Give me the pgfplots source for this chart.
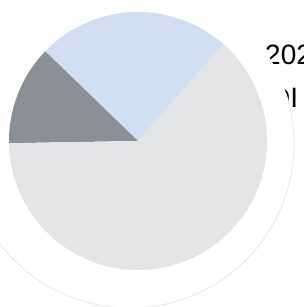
\documentclass[border=0pt]{standalone}
\usepackage{pgfplots}
\pgfplotsset{compat=1.18}
\usepackage{fontspec}
\setmainfont{Liberation Sans}
\definecolor{pieblue}{RGB}{210,222,242}
\definecolor{piedark}{RGB}{139,143,150}
\definecolor{pielight}{RGB}{227,229,231}
\definecolor{ringgray}{RGB}{232,232,232}
% slice shares (percent)
\def\vBlue{24.3}
\def\vDark{12.5}
\def\vLight{63.2}
\pgfmathsetmacro\aS{48.5}
\pgfmathsetmacro\aA{\aS+3.6*\vBlue}
\pgfmathsetmacro\aB{\aA+3.6*\vDark}
\pgfmathsetmacro\aC{\aB+3.6*\vLight}
\begin{document}
\begin{tikzpicture}[x=1pt,y=1pt]
\useasboundingbox (0,0) rectangle (303,307);
\begin{axis}[at={(0,0)},anchor=south west,x=1pt,y=1pt,
  xmin=0,xmax=303,ymin=0,ymax=307,hide axis,clip=false]
\node[anchor=base west,font=\fontsize{28}{32}\selectfont,inner sep=0pt] at (axis cs:265,242) {2023};
\node[anchor=base west,font=\fontsize{28}{32}\selectfont,inner sep=0pt] at (axis cs:270,199) {DI};
\fill[white] (axis cs:130,163) circle[radius=164pt];
\draw[ringgray,line width=0.8pt] (axis cs:130,163) ++(200:164pt) arc[start angle=200,end angle=378,radius=164pt];
\fill[pieblue] (axis cs:138,166) -- ++(\aS:129pt) arc[start angle=\aS,end angle=\aA,radius=129pt] -- cycle;
\fill[piedark] (axis cs:138,166) -- ++(\aA:129pt) arc[start angle=\aA,end angle=\aB,radius=129pt] -- cycle;
\fill[pielight] (axis cs:138,166) -- ++(\aB:129pt) arc[start angle=\aB,end angle=\aC,radius=129pt] -- cycle;
\end{axis}
\end{tikzpicture}
\end{document}
